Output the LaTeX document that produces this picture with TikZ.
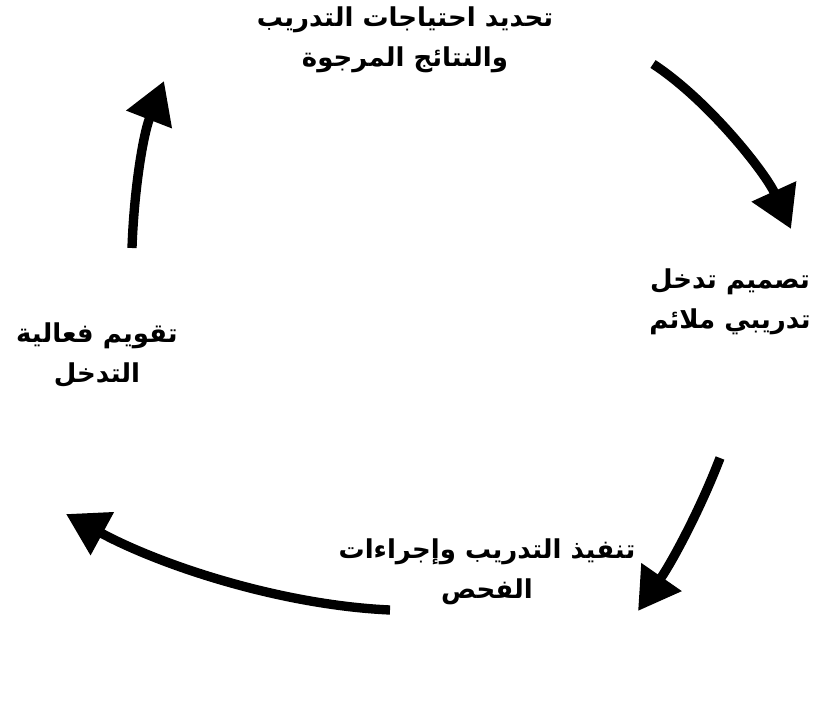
\documentclass[tikz,border=0pt]{standalone}
\usepackage{fontspec}
\newfontfamily\arabicfont[Script=Arabic]{DejaVu Sans}
\TeXXeTstate=1
\usetikzlibrary{arrows.meta}
\newcommand{\artxt}[1]{\beginR #1\endR}

\begin{document}
\begin{tikzpicture}[x=0.75pt, y=-0.75pt,
        lbl/.style={align=center, inner sep=0pt,
                    font=\arabicfont\bfseries\fontsize{19.5}{30}\selectfont},
        arr/.style={-{Triangle[length=31pt, width=35pt]}, line width=7pt}]
        \useasboundingbox (0,0) rectangle (816,702);
        % Etapes
        \node[lbl] (need) at (405,40)
          {\artxt{تحديد احتياجات التدريب}\\\artxt{والنتائج المرجوة}};
        \node[lbl] (design) at (730,302)
          {\artxt{تصميم تدخل}\\\artxt{تدريبي ملائم}};
        \node[lbl] (deliver) at (487,572)
          {\artxt{تنفيذ التدريب وإجراءات}\\\artxt{الفحص}};
        \node[lbl] (evalu) at (97,355)
          {\artxt{تقويم فعالية}\\\artxt{التدخل}};
        % Points des fleches
        \coordinate (a1s) at (653,64);  \coordinate (a1e) at (791,229);
        \coordinate (a2s) at (720,458); \coordinate (a2e) at (638,611);
        \coordinate (a3s) at (390,610); \coordinate (a3e) at (66,514);
        \coordinate (a4s) at (132,248); \coordinate (a4e) at (164,81);
        % Fleches
        \draw[arr] (a1s) .. controls (708,100) and (765,172) .. (a1e);
        \draw[arr] (a2s) .. controls (700,510) and (672,562) .. (a2e);
        \draw[arr] (a3s) .. controls (280,605) and (160,565) .. (a3e);
        \draw[arr] (a4s) .. controls (134,190) and (143,135) .. (a4e);
      \end{tikzpicture}
\end{document}
